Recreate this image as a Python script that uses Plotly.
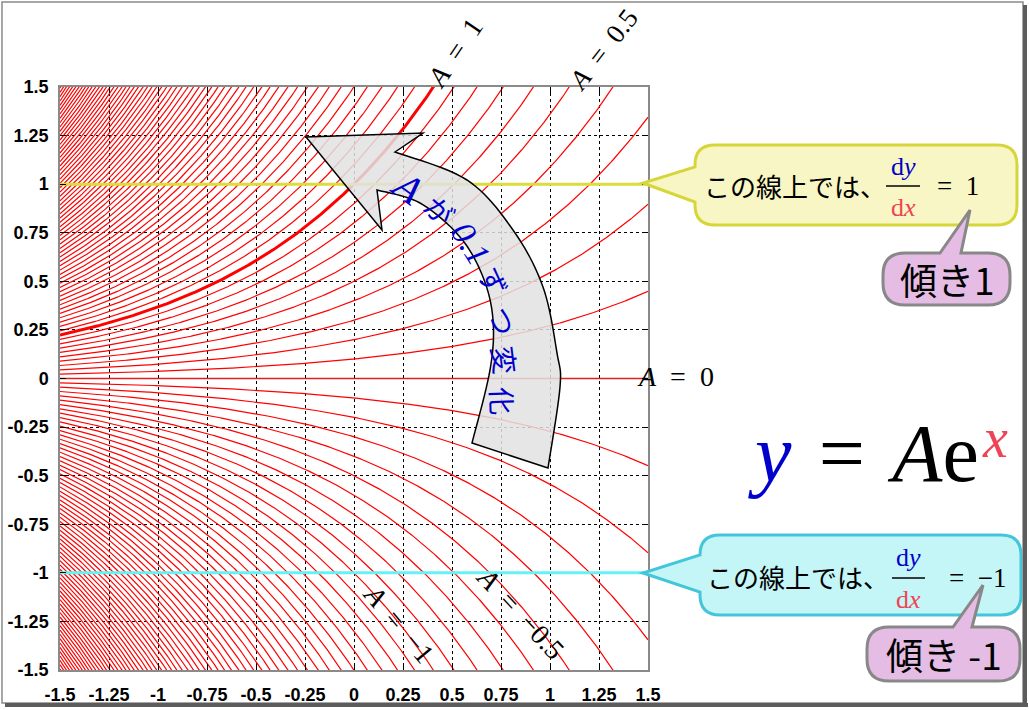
import numpy as np
import plotly.graph_objects as go

# ---------------- data ----------------
X_MIN, X_MAX = -1.5, 1.5
Y_MIN, Y_MAX = -1.5, 1.5
A_STEP = 0.1
A_MIN, A_MAX = -7.0, 7.0
A_HIGHLIGHT = 1.0
SLOPE_POS_Y = 1.0
SLOPE_NEG_Y = -1.0
tick_vals = [-1.5, -1.25, -1, -0.75, -0.5, -0.25, 0, 0.25, 0.5, 0.75, 1, 1.25, 1.5]
tick_text = ["-1.5", "-1.25", "-1", "-0.75", "-0.5", "-0.25", "0",
             "0.25", "0.5", "0.75", "1", "1.25", "1.5"]
EN = "\u2002"
TS = "\u2004"
curve_labels = [f"<i>A</i>{EN}={EN}1", f"<i>A</i>{EN}={EN}0.5", f"<i>A</i>{EN}={EN}0",
                f"<i>A</i>{EN}={EN}\u22121", f"<i>A</i>{EN}={EN}\u22120.5"]
arc_chars = ["<i>A</i>", "が", "<i>0.1</i>", "ず", "つ", "変", "化"]

# ---------------- layout geometry ----------------
W, H = 1029, 710
ML, MR, MT, MB = 60, 381, 87, 40
PW = W - ML - MR
PH = H - MT - MB


def px(x):
    return (x - ML) / PW


def py(y):
    return (H - MB - y) / PH


def path(cmds):
    out = []
    for c in cmds:
        if c == 'Z':
            out.append('Z')
            continue
        op, *pts = c
        out.append(op + ' ' + ' '.join(f"{px(a):.5f},{py(b):.5f}" for a, b in pts))
    return ' '.join(out)


def catmull(points, n=12):
    pts = [points[0]] + list(points) + [points[-1]]
    res = []
    for i in range(1, len(pts) - 2):
        p0, p1, p2, p3 = [np.array(p, float) for p in pts[i - 1:i + 3]]
        for t in np.linspace(0, 1, n, endpoint=False):
            t2, t3 = t * t, t * t * t
            q = 0.5 * ((2 * p1) + (-p0 + p2) * t + (2 * p0 - 5 * p1 + 4 * p2 - p3) * t2
                       + (-p0 + 3 * p1 - 3 * p2 + p3) * t3)
            res.append((q[0], q[1]))
    res.append(points[-1])
    return res


# ---------------- traces ----------------
xs = np.linspace(X_MIN, X_MAX, 401)
n_steps = int(round((A_MAX - A_MIN) / A_STEP))
a_values = [round(A_MIN + i * A_STEP, 1) for i in range(n_steps + 1)]

cx, cy = [], []
for a in a_values:
    if abs(a - A_HIGHLIGHT) < 1e-9 or abs(a) < 1e-9:
        continue
    cx.extend(xs.tolist() + [None])
    cy.extend((a * np.exp(xs)).tolist() + [None])

fig = go.Figure()
fig.add_trace(go.Scatter(x=cx, y=cy, mode="lines", line=dict(color="#FF0000", width=1.2),
                         hoverinfo="skip", showlegend=False))
fig.add_trace(go.Scatter(x=xs, y=0 * xs, mode="lines", line=dict(color="#E02020", width=1.4),
                         hoverinfo="skip", showlegend=False))
fig.add_trace(go.Scatter(x=xs, y=A_HIGHLIGHT * np.exp(xs), mode="lines",
                         line=dict(color="#FF0000", width=3), hoverinfo="skip", showlegend=False))
fig.add_trace(go.Scatter(x=[X_MIN, X_MAX], y=[SLOPE_POS_Y, SLOPE_POS_Y], mode="lines",
                         line=dict(color="#DCDC3C", width=3), hoverinfo="skip", showlegend=False))
fig.add_trace(go.Scatter(x=[X_MIN, X_MAX], y=[SLOPE_NEG_Y, SLOPE_NEG_Y], mode="lines",
                         line=dict(color="#66F2F2", width=3), hoverinfo="skip", showlegend=False))

axis_common = dict(
    tickvals=tick_vals, ticktext=tick_text, showgrid=True, gridcolor="black",
    griddash="dot", gridwidth=1, ticks="inside", ticklen=6, tickcolor="black", tickwidth=1,
    showline=True, linecolor="#8a8a8a", linewidth=1.5, mirror="ticks", zeroline=False,
    automargin=False,
    tickfont=dict(family="Liberation Sans", size=18, color="black", weight="bold"),
)
xa = dict(axis_common); xa["range"] = [X_MIN, X_MAX]; xa["ticklabelstandoff"] = 8
ya = dict(axis_common); ya["range"] = [Y_MIN, Y_MAX]; ya["ticklabelstandoff"] = 6

shapes = []

# curved arrow
outer = [(395, 152), (467, 180), (513, 230), (543, 287), (557, 353), (560, 387), (548, 468)]
inner = [(377, 190), (420, 203), (460, 237), (483, 277), (493, 320), (490, 370), (472, 443)]
inner_s = catmull(inner)
outer_s = catmull(outer)[::-1]
arrow_pts = [(395, 152), (423, 133), (306, 137), (382, 230)] + inner_s + outer_s
cmds = [('M', arrow_pts[0])] + [('L', p) for p in arrow_pts[1:]] + ['Z']
shapes.append(dict(type="path", xref="paper", yref="paper", path=path(cmds),
                   fillcolor="rgba(226,226,226,0.85)", line=dict(color="black", width=1.5),
                   layer="above"))


def callout(L, T, R, B, r, side, ptr):
    c = [('M', (L + r, T))]
    if side == 'top':
        c += [('L', ptr[0]), ('L', ptr[1]), ('L', ptr[2])]
    c += [('L', (R - r, T)), ('Q', (R, T), (R, T + r)), ('L', (R, B - r)),
          ('Q', (R, B), (R - r, B)), ('L', (L + r, B)), ('Q', (L, B), (L, B - r))]
    if side == 'left':
        c += [('L', ptr[0]), ('L', ptr[1]), ('L', ptr[2])]
    c += [('L', (L, T + r)), ('Q', (L, T), (L + r, T)), 'Z']
    return path(c)


shapes.append(dict(type="path", xref="paper", yref="paper", layer="above",
                   path=callout(695, 145, 1017, 225, 20, 'left', [(695, 202), (643, 183), (695, 167)]),
                   fillcolor="#F8F6C4", line=dict(color="#D6D63A", width=3)))
shapes.append(dict(type="path", xref="paper", yref="paper", layer="above",
                   path=callout(883, 253, 1010, 305, 22, 'top', [(940, 253), (970, 210), (961, 253)]),
                   fillcolor="#E4BCE4", line=dict(color="#888888", width=3)))
shapes.append(dict(type="path", xref="paper", yref="paper", layer="above",
                   path=callout(700, 535, 1021, 615, 20, 'left', [(700, 592), (643, 573), (700, 555)]),
                   fillcolor="#C4F6F8", line=dict(color="#44C6DA", width=3)))
shapes.append(dict(type="path", xref="paper", yref="paper", layer="above",
                   path=callout(867, 627, 1020, 681, 22, 'top', [(953, 627), (983, 585), (972, 627)]),
                   fillcolor="#E4BCE4", line=dict(color="#888888", width=3)))

# fraction bars
for (x0, x1, yb) in [(886, 920, 186), (892, 925, 578)]:
    shapes.append(dict(type="line", xref="paper", yref="paper", layer="above",
                       x0=px(x0), x1=px(x1), y0=py(yb), y1=py(yb),
                       line=dict(color="black", width=1.3)))

# outer frame + shadow
shapes.append(dict(type="rect", xref="paper", yref="paper", layer="above",
                   x0=px(2), x1=px(1023), y0=py(2), y1=py(703),
                   line=dict(color="#8a8a8a", width=1.5)))
shapes.append(dict(type="line", xref="paper", yref="paper", layer="above",
                   x0=px(5), x1=px(1028), y0=py(705), y1=py(705),
                   line=dict(color="#5c5c5c", width=4)))
shapes.append(dict(type="line", xref="paper", yref="paper", layer="above",
                   x0=px(1025), x1=px(1025), y0=py(5), y1=py(707),
                   line=dict(color="#5c5c5c", width=4)))

SERIF = "Liberation Serif"
CJK = "Noto Sans CJK JP"
annotations = []


def ann(text, x, y, size, family, color="black", angle=0, xanchor="center"):
    annotations.append(dict(text=text, x=px(x), y=py(y), xref="paper", yref="paper",
                            showarrow=False, xanchor=xanchor, yanchor="middle",
                            textangle=angle, font=dict(family=family, size=size, color=color)))


# curve labels
ann(curve_labels[0], 454, 53, 28, SERIF, angle=-56)
ann(curve_labels[1], 603, 50, 27, SERIF, angle=-52)
ann(curve_labels[2], 675, 376, 28, SERIF)
ann(curve_labels[3], 399, 623, 28, SERIF, angle=50)
ann(curve_labels[4], 521, 613, 28, SERIF, angle=47)

# arc text
BLUE = "#0000CC"
REDX = "#EE4455"
arc_pos = [(408, 187, 36, 40, SERIF), (440, 210, 45, 28, CJK),
           (471, 243, 58, 34, SERIF), (494, 281, 67, 28, CJK),
           (503, 321, 76, 28, CJK), (505, 360, 83, 28, CJK),
           (503, 401, 88, 28, CJK)]
for ch, (x, y, ang, size, fam) in zip(arc_chars, arc_pos):
    ann(ch, x, y, size, fam, color=BLUE, angle=ang)

# callout texts
ann("この線上では、", 795, 186, 26, CJK)
ann("d<i>y</i>", 903, 166, 26, SERIF, color=BLUE)
ann("d<i>x</i>", 903, 207, 26, SERIF, color=REDX)
ann(f"={EN}1", 958, 186, 27, SERIF)
ann("傾き1", 947, 279, 37, CJK)

ann("この線上では、", 798, 576, 26, CJK)
ann("d<i>y</i>", 908, 557, 26, SERIF, color=BLUE)
ann("d<i>x</i>", 908, 599, 26, SERIF, color=REDX)
ann(f"={EN}\u22121", 977, 578, 27, SERIF)
ann("傾き -1", 944, 654, 37, CJK)

# big formula
ann(f"<span style='color:{BLUE}'><i>y</i></span>{TS}={TS}<i>A</i>e",
    746, 453, 82, SERIF, xanchor="left")
ann("<i>x</i>", 980, 438, 56, SERIF, color=REDX, xanchor="left")

fig.update_layout(
    width=W, height=H, margin=dict(l=ML, r=MR, t=MT, b=MB, autoexpand=False),
    paper_bgcolor="white", plot_bgcolor="white",
    xaxis=xa, yaxis=ya, shapes=shapes, annotations=annotations, showlegend=False,
)

fig.write_html("out.html", config={"displayModeBar": False},
               post_script="document.body.style.margin='0px';document.body.style.overflow='hidden';")
